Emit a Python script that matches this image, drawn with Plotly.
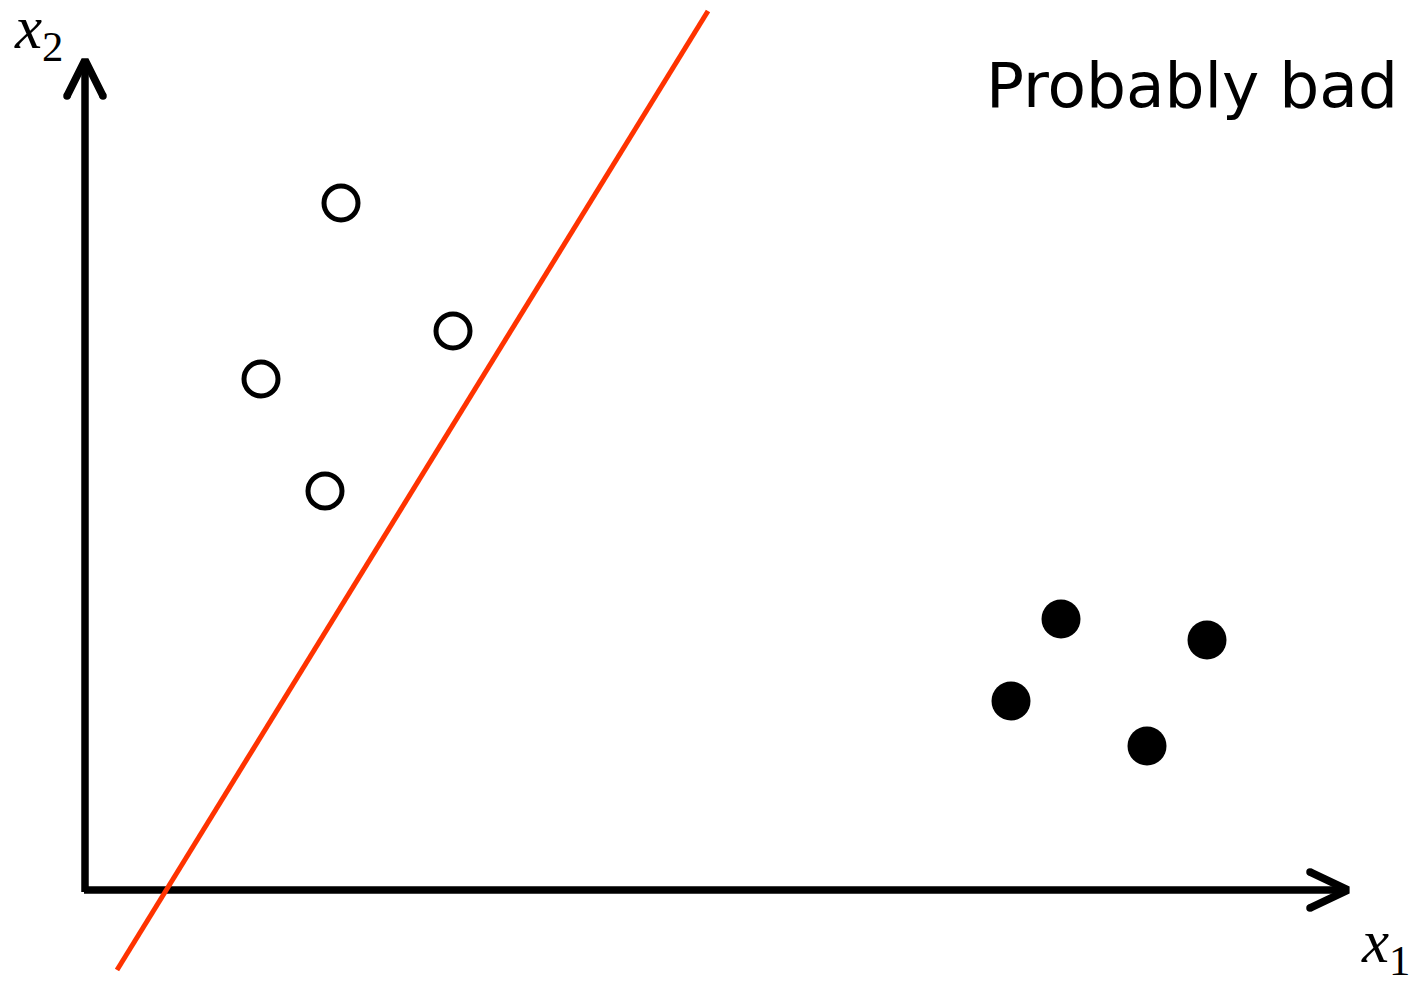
import plotly.graph_objects as go

# ---- data (in feature-space units) ----
open_x1 = [2.56, 3.68, 1.76, 2.40]
open_x2 = [6.87, 5.59, 5.11, 3.99]
filled_x1 = [9.76, 11.22, 9.26, 10.62]
filled_x2 = [2.71, 2.50, 1.89, 1.44]
boundary_x1 = [0.32, 6.23]
boundary_x2 = [-0.80, 8.79]
x1_axis_end = 12.63
x2_axis_end = 8.30
title_text = "Probably bad"

AXW = 7.5
fig = go.Figure()

# axes shafts
fig.add_trace(go.Scatter(x=[0, 0], y=[-0.02, x2_axis_end], mode="lines",
                         line=dict(color="black", width=AXW), hoverinfo="skip"))
fig.add_trace(go.Scatter(x=[-0.01, x1_axis_end], y=[0, 0], mode="lines",
                         line=dict(color="black", width=AXW), hoverinfo="skip"))
# arrow chevrons
ax_dx, ax_dy = 0.38, 0.18
fig.add_trace(go.Scatter(x=[x1_axis_end - ax_dx, x1_axis_end, x1_axis_end - ax_dx],
                         y=[ax_dy, 0, -ax_dy], mode="lines",
                         line=dict(color="black", width=AXW), hoverinfo="skip"))
fig.add_trace(go.Scatter(x=[-ax_dy, 0, ax_dy],
                         y=[x2_axis_end - 0.36, x2_axis_end, x2_axis_end - 0.36], mode="lines",
                         line=dict(color="black", width=AXW), hoverinfo="skip"))
# round caps on chevron ends
fig.add_trace(go.Scatter(x=[x1_axis_end - ax_dx, x1_axis_end - ax_dx, -ax_dy, ax_dy],
                         y=[ax_dy, -ax_dy, x2_axis_end - 0.36, x2_axis_end - 0.36],
                         mode="markers", marker=dict(color="black", size=AXW, line=dict(width=0)),
                         hoverinfo="skip"))

# decision boundary
fig.add_trace(go.Scatter(x=boundary_x1, y=boundary_x2, mode="lines",
                         line=dict(color="#ff3300", width=5), hoverinfo="skip"))

# classes
fig.add_trace(go.Scatter(x=open_x1, y=open_x2, mode="markers",
                         marker=dict(size=34, color="white", line=dict(color="black", width=5))))
fig.add_trace(go.Scatter(x=filled_x1, y=filled_x2, mode="markers",
                         marker=dict(size=39, color="black", line=dict(width=0))))

# labels
fig.add_annotation(x=-0.47, y=8.58, text="<i>x</i><sub>2</sub>", showarrow=False,
                   xanchor="center", yanchor="middle",
                   font=dict(family="Liberation Serif", size=61, color="black"))
fig.add_annotation(x=13.00, y=-0.56, text="<i>x</i><sub>1</sub>", showarrow=False,
                   xanchor="center", yanchor="middle",
                   font=dict(family="Liberation Serif", size=61, color="black"))
fig.add_annotation(x=8.99, y=8.05, text=title_text, showarrow=False,
                   xanchor="left", yanchor="middle",
                   font=dict(family="DejaVu Sans", size=63, color="black"))

fig.update_layout(
    width=1418, height=983,
    margin=dict(l=0, r=0, t=0, b=0),
    paper_bgcolor="white", plot_bgcolor="white",
    showlegend=False,
    xaxis=dict(range=[-0.85, 13.33], visible=False, fixedrange=True),
    yaxis=dict(range=[-0.93, 8.90], visible=False, fixedrange=True),
)

fig.write_html("out.html", config={"displayModeBar": False},
               post_script="document.body.style.margin='0';document.body.style.overflow='hidden';")
